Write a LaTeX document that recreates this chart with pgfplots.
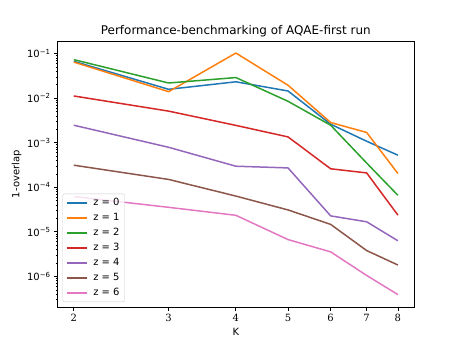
\documentclass[border=0pt]{standalone}
\usepackage{fontspec}
\setmainfont{DejaVu Sans}
\newfontfamily\tickserif{DejaVu Serif}
\usepackage{pgfplots}
\pgfplotsset{compat=1.18}
\definecolor{c0}{HTML}{1F77B4}
\definecolor{c1}{HTML}{FF7F0E}
\definecolor{c2}{HTML}{2CA02C}
\definecolor{c3}{HTML}{D62728}
\definecolor{c4}{HTML}{9467BD}
\definecolor{c5}{HTML}{8C564B}
\definecolor{c6}{HTML}{E377C2}

\begin{document}
\begin{tikzpicture}
\path[use as bounding box] (-57.6bp,-37.95bp) rectangle (402.4bp,307.05bp);
\begin{axis}[
  at={(0,0)}, anchor=south west, scale only axis,
  width=356.5bp, height=265.65bp,
  xmode=log, ymode=log,
  xmin=1.866, xmax=8.574, ymin=2.05e-7, ymax=0.188,
  axis line style={black, line width=0.8bp},
  tick align=outside, tick pos=left,
  major tick length=3.5bp, minor tick length=2bp,
  every tick/.style={black, line width=0.8bp},
  every minor tick/.style={black, line width=0.6bp},
  xtick={2,3,4,5,6,7,8}, minor xtick={},
  xticklabels={2,3,4,5,6,7,8},
  xticklabel style={font=\tickserif\fontsize{10}{12}\selectfont},
  ytick={1e-6,1e-5,1e-4,1e-3,1e-2,1e-1},
  yticklabels={10\textsuperscript{−6},10\textsuperscript{−5},10\textsuperscript{−4},10\textsuperscript{−3},10\textsuperscript{−2},10\textsuperscript{−1}},
  minor ytick={3e-7,4e-7,5e-7,6e-7,7e-7,8e-7,9e-7,
    2e-6,3e-6,4e-6,5e-6,6e-6,7e-6,8e-6,9e-6,
    2e-5,3e-5,4e-5,5e-5,6e-5,7e-5,8e-5,9e-5,
    2e-4,3e-4,4e-4,5e-4,6e-4,7e-4,8e-4,9e-4,
    2e-3,3e-3,4e-3,5e-3,6e-3,7e-3,8e-3,9e-3,
    2e-2,3e-2,4e-2,5e-2,6e-2,7e-2,8e-2,9e-2},
  yticklabel style={font=\fontsize{10}{12}\selectfont},
  title={Performance-benchmarking of AQAE-first run},
  every axis title shift=0pt,
  title style={font=\fontsize{12}{14}\selectfont, at={(axis description cs:0.5,1)}, anchor=base, yshift=7bp},
  xlabel={K},
  xlabel style={font=\fontsize{10}{12}\selectfont, at={(axis description cs:0.5,0)}, anchor=base, yshift=-28bp},
  legend style={at={(axis description cs:0.014,0.0188)}, anchor=south west,
    draw=black!20, rounded corners=2bp, fill=white, fill opacity=0.8, text opacity=1,
    font=\fontsize{10}{12}\selectfont, inner xsep=3bp, inner ysep=1.5bp,
    row sep=0bp, column sep=4bp,
    nodes={text height=7.5bp, text depth=2.5bp, inner ysep=2.5bp}},
  legend cell align=left,
  legend image code/.code={\draw[#1, line width=1.5bp] (0bp,0bp) -- (20bp,0bp);},
  every axis plot/.append style={line width=1.5bp, line join=round},
]
\addplot[c0] coordinates {(2,0.0672)(3,0.0158)(4,0.0233)(5,0.0145)(6,0.0026)(7,0.00108)(8,0.000525)};
\addlegendentry{z = 0}
\addplot[c1] coordinates {(2,0.0645)(3,0.0140)(4,0.103)(5,0.0195)(6,0.00284)(7,0.0017)(8,0.000204)};
\addlegendentry{z = 1}
\addplot[c2] coordinates {(2,0.0733)(3,0.0219)(4,0.029)(5,0.0085)(6,0.00247)(7,0.00035)(8,0.000066)};
\addlegendentry{z = 2}
\addplot[c3] coordinates {(2,0.0112)(3,0.00512)(4,0.00245)(5,0.00135)(6,0.00026)(7,0.00021)(8,0.0000237)};
\addlegendentry{z = 3}
\addplot[c4] coordinates {(2,0.00247)(3,0.00079)(4,0.000297)(5,0.000272)(6,0.0000228)(7,0.0000168)(8,0.0000063)};
\addlegendentry{z = 4}
\addplot[c5] coordinates {(2,0.000313)(3,0.00015)(4,0.0000635)(5,0.000031)(6,0.0000147)(7,0.0000038)(8,0.0000018)};
\addlegendentry{z = 5}
\addplot[c6] coordinates {(2,0.000062)(3,0.0000355)(4,0.0000235)(5,0.0000067)(6,0.00000355)(7,0.00000105)(8,0.00000039)};
\addlegendentry{z = 6}
\end{axis}
\node[rotate=90, anchor=center, font=\fontsize{10}{12}\selectfont] at (-41bp,132.8bp) {1-overlap};
\end{tikzpicture}
\end{document}
